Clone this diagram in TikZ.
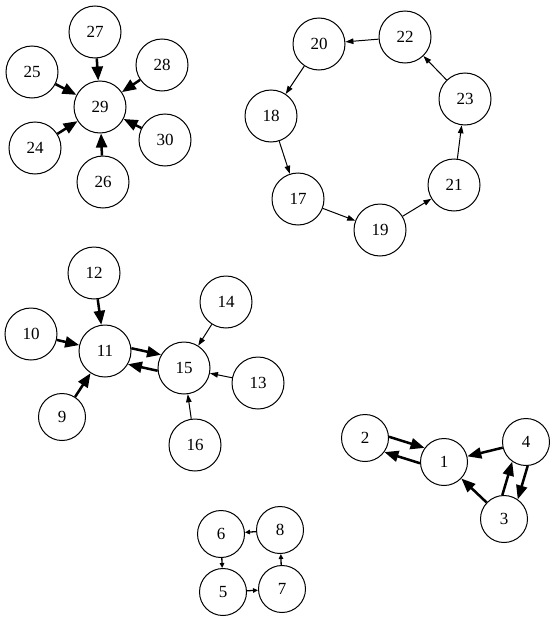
\documentclass[tikz,border=0pt]{standalone}
\usepackage{fontspec}
\setmainfont{Liberation Serif}
\usetikzlibrary{arrows.meta}
\tikzset{
 vertex/.style={circle,draw,line width=1pt,minimum size=52pt,inner sep=0pt},
 smallvertex/.style={vertex,minimum size=47pt},
 heavyarrow/.style={line width=2.5pt,-{Triangle[length=14pt,width=11pt]}},
 lightarrow/.style={line width=1pt,-{Triangle[length=8pt,width=5.5pt]}},
 tinyarrow/.style={line width=1.3pt,-{Triangle[length=5pt,width=4.5pt]}}
}
\begin{document}
\begin{tikzpicture}[x=1pt,y=-1pt,font=\fontsize{17}{17}\selectfont]
 \useasboundingbox (0,0) rectangle (555,621);
 % star round 29
 \foreach \n/\x/\y in {27/95/32,25/32/72,28/162/65,29/100/107,24/35/148,30/165/140,26/103/182}
  \node[vertex] (n\n) at (\x,\y) {\n};
 \foreach \s in {27,25,28,24,30,26}
  \draw[heavyarrow] (n\s) -- (n29);
 % ring 17--23
 \foreach \n/\x/\y in {20/319/44,22/405/37,23/465/99,21/454/185,19/380/230,17/298/199,18/271/116}
  \node[vertex] (n\n) at (\x,\y) {\n};
 \foreach \s/\t in {22/20,20/18,18/17,17/19,19/21,21/23,23/22}
  \draw[lightarrow] (n\s) -- (n\t);
 % pair 11, 15
 \foreach \n/\x/\y in {12/94/273,10/31/334,11/105/351,15/184/368,14/226/302,13/258/383,16/195/445}
  \node[vertex] (n\n) at (\x,\y) {\n};
 \node[smallvertex] (n9) at (62,417) {9};
 \foreach \s in {12,10,9}
  \draw[heavyarrow] (n\s) -- (n11);
 \draw[heavyarrow] (n11.6) -- (n15.150);
 \draw[heavyarrow] (n15.186) -- (n11.-30);
 \foreach \s in {14,13,16}
  \draw[lightarrow] (n\s) -- (n15);
 % 1--4
 \foreach \n/\x/\y in {2/365/438,1/444/462,4/526/442,3/504/519}
  \node[smallvertex] (n\n) at (\x,\y) {\n};
 \draw[heavyarrow] (n2.3) -- (n1.144);
 \draw[heavyarrow] (n1.183) -- (n2.-36);
 \draw[heavyarrow] (n4) -- (n1);
 \draw[heavyarrow] (n3) -- (n1);
 \draw[heavyarrow] (n3.94) -- (n4.235);
 \draw[heavyarrow] (n4.274) -- (n3.55);
 % square 5--8
 \foreach \n/\x/\y in {6/221/534,8/280/530,5/223/592,7/282/589}
  \node[smallvertex] (n\n) at (\x,\y) {\n};
 \foreach \s/\t in {6/5,5/7,7/8,8/6}
  \draw[tinyarrow] (n\s) -- (n\t);
\end{tikzpicture}
\end{document}
